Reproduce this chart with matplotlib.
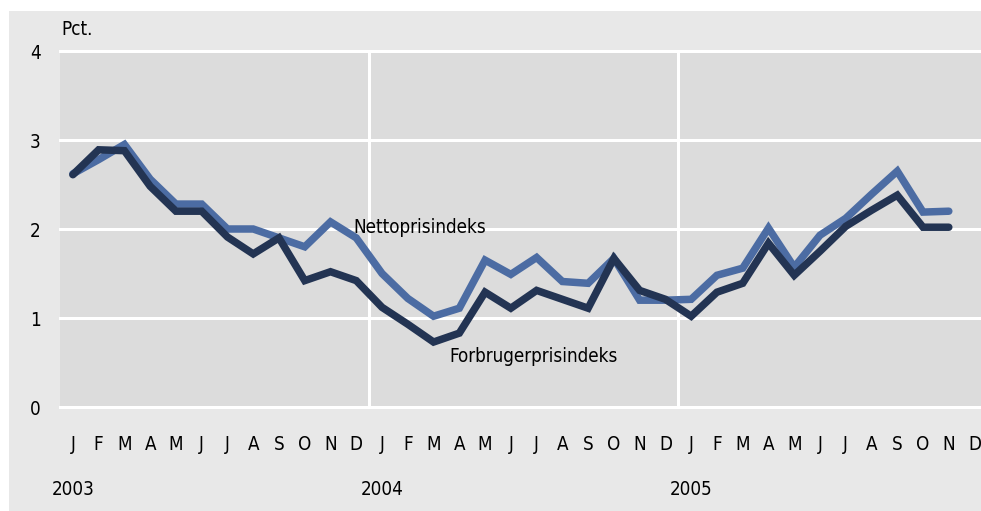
import matplotlib
matplotlib.use("Agg")
import matplotlib.pyplot as plt
from matplotlib.patches import Rectangle

months = ["J", "F", "M", "A", "M", "J", "J", "A", "S", "O", "N", "D"] * 3
years = ["2003", "2004", "2005"]
yticks = [0, 1, 2, 3, 4]

netto = [2.62, 2.78, 2.95, 2.56, 2.28, 2.28, 2.00, 2.00, 1.90, 1.80, 2.08, 1.90,
         1.50, 1.22, 1.02, 1.11, 1.65, 1.49, 1.68, 1.41, 1.39, 1.67, 1.20, 1.20,
         1.21, 1.48, 1.56, 2.01, 1.57, 1.93, 2.12, 2.39, 2.65, 2.19, 2.20]
forbruger = [2.61, 2.89, 2.88, 2.48, 2.20, 2.20, 1.91, 1.72, 1.90, 1.42, 1.52, 1.42,
             1.12, 0.93, 0.73, 0.83, 1.29, 1.11, 1.31, 1.21, 1.11, 1.67, 1.31, 1.21,
             1.02, 1.29, 1.39, 1.84, 1.48, 1.75, 2.03, 2.21, 2.38, 2.02, 2.02]

plt.rcParams["font.family"] = ["DejaVu Sans"]
plt.rcParams["font.stretch"] = "condensed"

fig = plt.figure(figsize=(9.81, 5.11), dpi=100)
fig.patches.append(Rectangle((9 / 981, 0), 1, 1 - 11 / 511, transform=fig.transFigure,
                             facecolor="#e8e8e8", edgecolor="none", zorder=-10))
ax = fig.add_axes([60 / 981, 1 - 407 / 511, 1 - 60 / 981, (407 - 51) / 511])
ax.set_facecolor("#dcdcdc")
for s in ax.spines.values():
    s.set_visible(False)

x = list(range(len(netto)))
ax.set_xlim(-0.5, 35.25)
ax.set_ylim(0, 4)

for yv in yticks:
    ax.axhline(yv, color="white", lw=2.2, zorder=1, clip_on=False)
for xv in [11.5, 23.5]:
    ax.axvline(xv, color="white", lw=2.2, zorder=1)

ax.plot(x, netto, color="#4c6ca3", lw=5.4, solid_capstyle="round", solid_joinstyle="miter", zorder=3)
ax.plot(x, forbruger, color="#233453", lw=5.4, solid_capstyle="round", solid_joinstyle="miter", zorder=4)

FS = 13.5
ax.set_yticks(yticks)
ax.set_yticklabels([str(v) for v in yticks], fontsize=FS)
ax.tick_params(axis="y", length=0, pad=14)
ax.set_xticks(range(len(months)))
ax.set_xticklabels(months, fontsize=FS)
ax.tick_params(axis="x", length=0, pad=20)

for i, yr in enumerate(years):
    ax.text(i * 12, -0.93, yr, ha="center", va="center", fontsize=FS, clip_on=False)

ax.text(-0.45, 4.24, "Pct.", ha="left", va="center", fontsize=FS, clip_on=False)
ax.text(10.9, 2.02, "Nettoprisindeks", ha="left", va="center", fontsize=FS)
ax.text(14.6, 0.57, "Forbrugerprisindeks", ha="left", va="center", fontsize=FS)

fig.savefig("out.png", dpi=100)
